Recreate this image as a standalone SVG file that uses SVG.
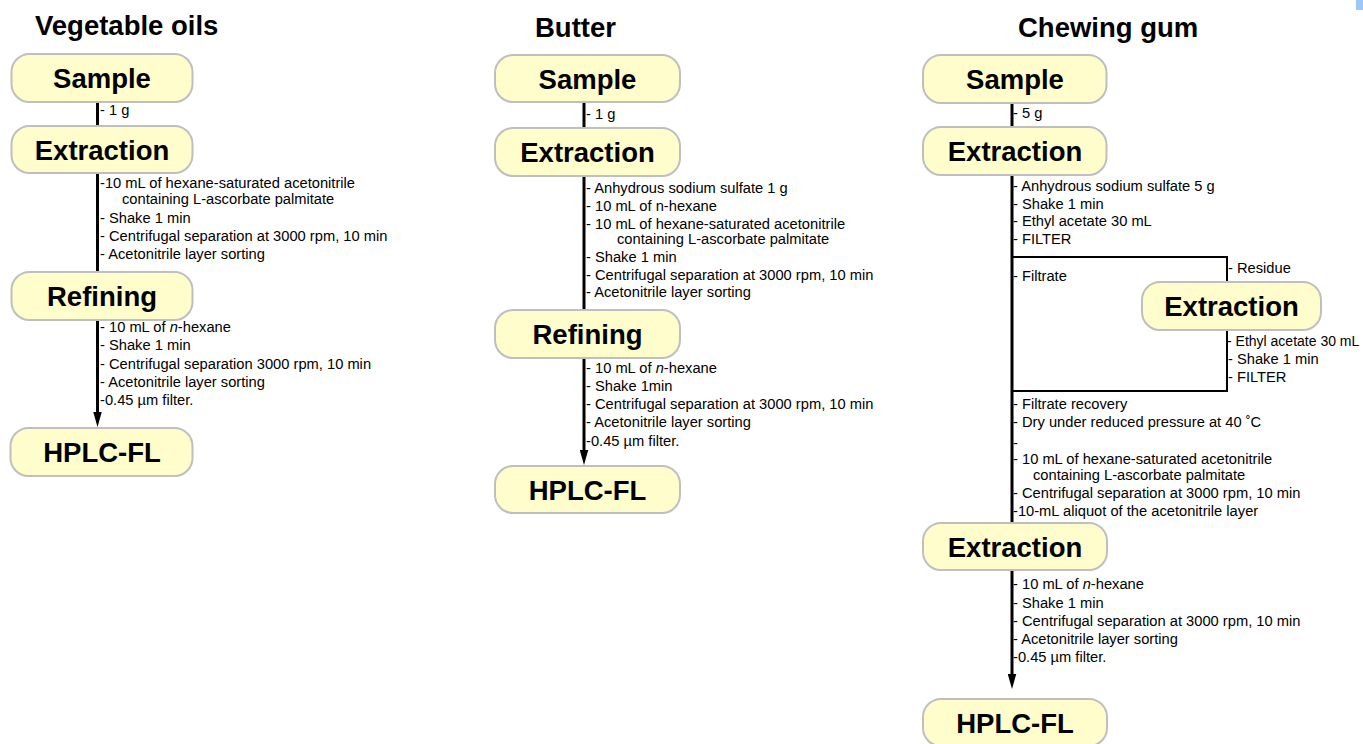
<svg xmlns="http://www.w3.org/2000/svg" width="1363" height="744" viewBox="0 0 1363 744">
<defs>
<style>
.box{fill:#FEFDCB;stroke:#BFBFBF;stroke-width:2}
.lbl{font-family:"Liberation Sans",Arial,sans-serif;font-weight:bold;font-size:27.5px;fill:#000;text-anchor:middle}
.ttl{font-family:"Liberation Sans",Arial,sans-serif;font-weight:bold;font-size:27.5px;fill:#000}
.t{font-family:"Liberation Sans",Arial,sans-serif;font-size:14.7px;fill:#000}
.main{stroke:#000;stroke-width:3;fill:none}
.loop{stroke:#000;stroke-width:2;fill:none}
</style>
<marker id="arr" markerUnits="userSpaceOnUse" markerWidth="15" markerHeight="9" viewBox="0 0 15 8.5" refX="5" refY="4.25" orient="auto">
<path d="M0,0 L15,4.25 L0,8.5 z" fill="#000"/>
</marker>
</defs>
<rect x="1356" y="0" width="7" height="10" fill="#9CC8F8"/>

<g id="titles">
<text class="ttl" x="35" y="35">Vegetable oils</text>
<text class="ttl" x="535" y="37">Butter</text>
<text class="ttl" x="1018" y="37">Chewing gum</text>
</g>

<g id="connectors">
<line class="main" x1="97.5" y1="102" x2="97.5" y2="126"/>
<line class="main" x1="97.5" y1="173" x2="97.5" y2="272"/>
<line class="main" x1="97.5" y1="320" x2="97.5" y2="417" marker-end="url(#arr)"/>
<line class="main" x1="584" y1="102" x2="584" y2="128"/>
<line class="main" x1="584" y1="176" x2="584" y2="310"/>
<line class="main" x1="584" y1="358" x2="584" y2="455" marker-end="url(#arr)"/>
<line class="main" x1="1012" y1="103" x2="1012" y2="127"/>
<line class="main" x1="1012" y1="175" x2="1012" y2="523"/>
<line class="main" x1="1012" y1="570" x2="1012" y2="679" marker-end="url(#arr)"/>
<polyline class="loop" points="1012,257 1227,257 1227,391 1012,391"/>
</g>

<g id="vo-sample"><rect class="box" x="11.5" y="54" width="181" height="48" rx="18"/><text class="lbl" x="102" y="88">Sample</text></g>
<g id="vo-extraction"><rect class="box" x="11.5" y="126" width="181" height="47" rx="18"/><text class="lbl" x="102" y="159.5">Extraction</text></g>
<g id="vo-refining"><rect class="box" x="11.5" y="272" width="181" height="48" rx="18"/><text class="lbl" x="102" y="306">Refining</text></g>
<g id="vo-hplc"><rect class="box" x="10.5" y="428" width="182" height="48" rx="18"/><text class="lbl" x="102" y="462">HPLC-FL</text></g>

<g id="bu-sample"><rect class="box" x="495" y="55" width="185" height="47" rx="18"/><text class="lbl" x="587.5" y="88.5">Sample</text></g>
<g id="bu-extraction"><rect class="box" x="495" y="128" width="185" height="48" rx="18"/><text class="lbl" x="587.5" y="162">Extraction</text></g>
<g id="bu-refining"><rect class="box" x="495" y="310" width="185" height="48" rx="18"/><text class="lbl" x="587.5" y="344">Refining</text></g>
<g id="bu-hplc"><rect class="box" x="495" y="466" width="185" height="47" rx="18"/><text class="lbl" x="587.5" y="499.5">HPLC-FL</text></g>

<g id="cg-sample"><rect class="box" x="923" y="55" width="183.5" height="48" rx="18"/><text class="lbl" x="1015" y="89">Sample</text></g>
<g id="cg-extraction-1"><rect class="box" x="923" y="127" width="183.5" height="48" rx="18"/><text class="lbl" x="1015" y="161">Extraction</text></g>
<g id="cg-extraction-2"><rect class="box" x="1142" y="282" width="179" height="48" rx="18"/><text class="lbl" x="1231.5" y="316">Extraction</text></g>
<g id="cg-extraction-3"><rect class="box" x="923" y="523" width="184" height="47" rx="18"/><text class="lbl" x="1015" y="556.5">Extraction</text></g>
<g id="cg-hplc"><rect class="box" x="923" y="699" width="184" height="47" rx="18"/><text class="lbl" x="1015" y="732.5">HPLC-FL</text></g>

<g id="annotations">
<text class="t" x="100" y="115">- 1 g</text>
<text class="t" x="100" y="188">-10 mL of hexane-saturated acetonitrile</text>
<text class="t" x="122" y="204">containing L-ascorbate palmitate</text>
<text class="t" x="100" y="222.5">- Shake 1 min</text>
<text class="t" x="100" y="240.5">- Centrifugal separation at 3000 rpm, 10 min</text>
<text class="t" x="100" y="259">- Acetonitrile layer sorting</text>
<text class="t" x="100" y="332">- 10 mL of <tspan font-style="italic">n</tspan>-hexane</text>
<text class="t" x="100" y="350">- Shake 1 min</text>
<text class="t" x="100" y="368.5">- Centrifugal separation 3000 rpm, 10 min</text>
<text class="t" x="100" y="387">- Acetonitrile layer sorting</text>
<text class="t" x="100" y="405">-0.45 µm filter.</text>

<text class="t" x="586" y="119">- 1 g</text>
<text class="t" x="586" y="193">- Anhydrous sodium sulfate 1 g</text>
<text class="t" x="586" y="211">- 10 mL of n-hexane</text>
<text class="t" x="586" y="229">- 10 mL of hexane-saturated acetonitrile</text>
<text class="t" x="617" y="244">containing L-ascorbate palmitate</text>
<text class="t" x="586" y="262">- Shake 1 min</text>
<text class="t" x="586" y="279.5">- Centrifugal separation at 3000 rpm, 10 min</text>
<text class="t" x="586" y="297">- Acetonitrile layer sorting</text>
<text class="t" x="586" y="373">- 10 mL of <tspan font-style="italic">n</tspan>-hexane</text>
<text class="t" x="586" y="391">- Shake 1min</text>
<text class="t" x="586" y="409">- Centrifugal separation at 3000 rpm, 10 min</text>
<text class="t" x="586" y="427">- Acetonitrile layer sorting</text>
<text class="t" x="586" y="445.5">-0.45 µm filter.</text>

<text class="t" x="1013" y="118">- 5 g</text>
<text class="t" x="1013" y="191">- Anhydrous sodium sulfate 5 g</text>
<text class="t" x="1013" y="208.5">- Shake 1 min</text>
<text class="t" x="1013" y="226">- Ethyl acetate 30 mL</text>
<text class="t" x="1013" y="244">- FILTER</text>
<text class="t" x="1013" y="281">- Filtrate</text>
<text class="t" x="1228" y="273">- Residue</text>
<text class="t" x="1227" y="346" style="font-size:14px">- Ethyl acetate 30 mL</text>
<text class="t" x="1228" y="364">- Shake 1 min</text>
<text class="t" x="1228" y="382">- FILTER</text>
<text class="t" x="1013" y="409">- Filtrate recovery</text>
<text class="t" x="1013" y="427">- Dry under reduced pressure at 40 ˚C</text>
<text class="t" x="1013" y="447.5">-</text>
<text class="t" x="1013" y="464">- 10 mL of hexane-saturated acetonitrile</text>
<text class="t" x="1033" y="480">containing L-ascorbate palmitate</text>
<text class="t" x="1013" y="498">- Centrifugal separation at 3000 rpm, 10 min</text>
<text class="t" x="1013" y="516">-10-mL aliquot of the acetonitrile layer</text>
<text class="t" x="1013" y="589">- 10 mL of <tspan font-style="italic">n</tspan>-hexane</text>
<text class="t" x="1013" y="607.5">- Shake 1 min</text>
<text class="t" x="1013" y="625.5">- Centrifugal separation at 3000 rpm, 10 min</text>
<text class="t" x="1013" y="643.5">- Acetonitrile layer sorting</text>
<text class="t" x="1013" y="661.5">-0.45 µm filter.</text>
</g>
</svg>
